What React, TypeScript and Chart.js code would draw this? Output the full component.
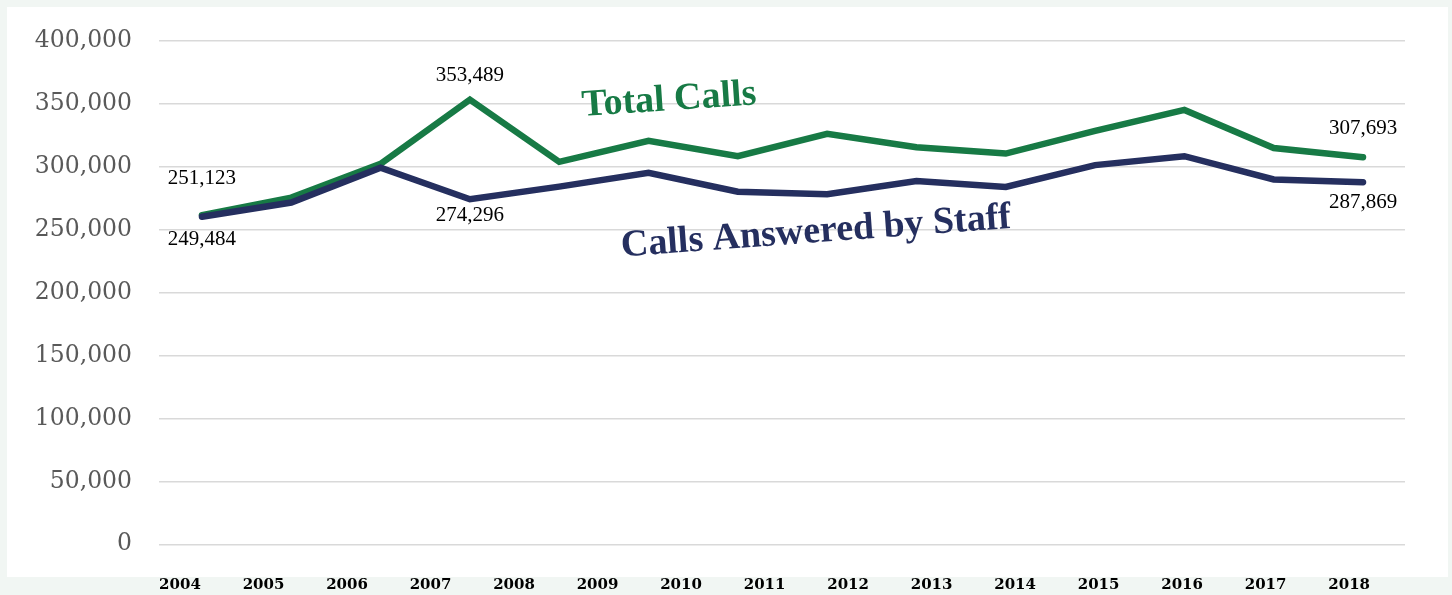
import React, { useEffect, useRef } from 'react';
import { Chart, registerables } from 'chart.js';

Chart.register(...registerables);

const YEARS = ['2004', '2005', '2006', '2007', '2008', '2009', '2010', '2011', '2012', '2013', '2014', '2015', '2016', '2017', '2018'];
const TOTAL_CALLS = [261600, 275600, 302400, 353489, 304000, 320800, 308500, 326300, 315600, 310600, 328700, 345300, 315000, 307693];
const ANSWERED_BY_STAFF = [260400, 271700, 299300, 274296, 284300, 295300, 280300, 278200, 288800, 284000, 301400, 308500, 290000, 287869];
const TOTAL_LABELS = ['251,123', '', '', '353,489', '', '', '', '', '', '', '', '', '', '307,693'];
const ANSWERED_LABELS = ['249,484', '', '', '274,296', '', '', '', '', '', '', '', '', '', '287,869'];
const SERIES_NAMES = ['Total Calls', 'Calls Answered by Staff'];
const Y_MIN = 0;
const Y_MAX = 400000;
const Y_STEP = 50000;

const GREEN = '#177A45';
const NAVY = '#252F5F';

const LABEL_OFFSETS: Record<string, number> = {
  't-0': -37, 't-3': -24, 't-13': -29,
  'a-0': 23, 'a-3': 16, 'a-13': 20,
};

const annotPlugin = {
  id: 'annot',
  afterDatasetsDraw(chart: any) {
    const ctx = chart.ctx;
    const xd = chart.scales.xd;
    const y = chart.scales.y;
    ctx.save();
    ctx.font = '21px "Liberation Serif"';
    ctx.fillStyle = '#000';
    ctx.textAlign = 'center';
    ctx.textBaseline = 'middle';
    const sets: [string, string[], number][] = [['a', ANSWERED_LABELS, 0], ['t', TOTAL_LABELS, 1]];
    sets.forEach(([key, labels, dsIndex]) => {
      const meta = chart.getDatasetMeta(dsIndex);
      labels.forEach((txt, i) => {
        if (!txt) return;
        const pt = meta.data[i];
        const dy = LABEL_OFFSETS[`${key}-${i}`] ?? 0;
        ctx.fillText(txt, pt.x, pt.y + dy);
      });
    });
    ctx.font = 'bold 38px "Liberation Serif"';
    const drawTitle = (text: string, xv: number, yv: number, angle: number, color: string) => {
      ctx.save();
      ctx.translate(xd.getPixelForValue(xv), y.getPixelForValue(yv));
      ctx.rotate((angle * Math.PI) / 180);
      ctx.fillStyle = color;
      ctx.fillText(text, 0, 0);
      ctx.restore();
    };
    drawTitle(SERIES_NAMES[0], 5.23, 352900, -3.9, GREEN);
    drawTitle(SERIES_NAMES[1], 6.875, 248000, -4.2, NAVY);
    ctx.restore();
  },
};

export default function App() {
  const ref = useRef<HTMLCanvasElement | null>(null);

  useEffect(() => {
    if (!ref.current) return;
    const chart = new Chart(ref.current, {
      type: 'line',
      data: {
        datasets: [
          {
            label: SERIES_NAMES[1],
            data: ANSWERED_BY_STAFF.map((v, i) => ({ x: i, y: v })),
            borderColor: NAVY,
            backgroundColor: NAVY,
            borderWidth: 6.5,
            pointRadius: 0,
            tension: 0,
            borderCapStyle: 'round',
            xAxisID: 'xd',
            yAxisID: 'y',
          },
          {
            label: SERIES_NAMES[0],
            data: TOTAL_CALLS.map((v, i) => ({ x: i, y: v })),
            borderColor: GREEN,
            backgroundColor: GREEN,
            borderWidth: 6.5,
            pointRadius: 0,
            tension: 0,
            borderCapStyle: 'round',
            xAxisID: 'xd',
            yAxisID: 'y',
          },
        ],
      },
      options: {
        animation: false,
        responsive: false,
        maintainAspectRatio: false,
        layout: { padding: { left: 0, top: 37.3, right: 47, bottom: 1.7 } },
        plugins: { legend: { display: false }, tooltip: { enabled: false } },
        scales: {
          xd: {
            type: 'linear',
            display: false,
            min: -0.481,
            max: 13.47,
          },
          xl: {
            type: 'linear',
            position: 'bottom',
            min: -0.2514,
            max: 14.669,
            grid: { display: false },
            border: { display: false },
            afterBuildTicks: (axis: any) => {
              axis.ticks = YEARS.map((_, i) => ({ value: i }));
            },
            afterFit: (scale: any) => {
              scale.height = 49;
            },
            ticks: {
              autoSkip: false,
              maxRotation: 0,
              padding: 24,
              color: '#000',
              font: { family: '"DejaVu Serif"', size: 15, weight: 'bold' },
              callback: (v: any) => YEARS[v] ?? '',
            },
          },
          y: {
            type: 'linear',
            min: Y_MIN,
            max: Y_MAX,
            border: { display: false },
            grid: { color: '#D9D9D9', lineWidth: 1.5, drawTicks: false },
            afterFit: (scale: any) => {
              scale.width = 159;
            },
            ticks: {
              stepSize: Y_STEP,
              padding: 27,
              color: '#595959',
              font: { family: '"DejaVu Serif"', size: 23.5 },
              callback: (v: any) => Number(v).toLocaleString('en-US'),
            },
          },
        },
      } as any,
      plugins: [annotPlugin],
    });
    return () => chart.destroy();
  }, []);

  return (
    <div style={{ position: 'fixed', left: 0, top: 0, width: 1452, height: 595, background: '#F1F6F3', overflow: 'hidden' }}>
      <div style={{ position: 'absolute', left: 7, top: 7, width: 1441, height: 570, background: '#FFFFFF' }} />
      <canvas ref={ref} width={1452} height={595} style={{ position: 'absolute', left: 0, top: 0, width: 1452, height: 595 }} />
    </div>
  );
}
